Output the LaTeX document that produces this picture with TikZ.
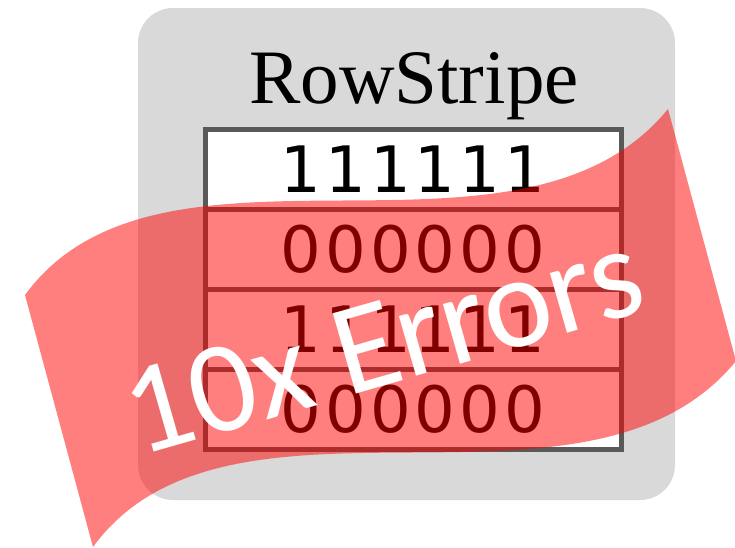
\documentclass[tikz,border=0pt]{standalone}
\usepackage{fontspec}
\setmainfont{Liberation Serif}
\newfontfamily\digfont[LetterSpace=6.5]{DejaVu Sans}
\newfontfamily\banfont{Carlito}
\definecolor{boxgray}{HTML}{D9D9D9}
\definecolor{edgegray}{HTML}{595959}
\begin{document}
\begin{tikzpicture}[x=1pt,y=-1pt,
  panelbox/.style={fill=boxgray, rounded corners=35pt, minimum width=537pt, minimum height=492pt, inner sep=0pt},
  titletext/.style={font=\fontsize{77}{77}\selectfont, anchor=base, inner sep=0pt},
  rowbox/.style={draw=edgegray, line width=5pt, fill=white, minimum width=416pt, minimum height=80pt, inner sep=0pt, font=\digfont\fontsize{64}{64}\selectfont},
  band/.style={fill=red, opacity=0.5},
  bantext/.style={text=white, font=\banfont\fontsize{130}{130}\selectfont, rotate=16, inner sep=0pt}]
\useasboundingbox (0,0) rectangle (735,547);
\clip (0,0) rectangle (735,547);
\node[panelbox] (panel) at (406.5,254) {};
\node[titletext] (title) at (414,103) {RowStripe};
\node[rowbox] (r1) at (413,169) {111111};
\node[rowbox] (r2) at (413,249) {000000};
\node[rowbox] (r3) at (413,329) {111111};
\node[rowbox] (r4) at (413,409) {000000};
\fill[band] (25,295) .. controls (160,110) and (520,290) .. (668,109) -- (736,361) .. controls (588,542) and (228,362) .. (93,547) -- cycle;
\node[bantext] (errs) at (383,343) {10x Errors};
\end{tikzpicture}
\end{document}
